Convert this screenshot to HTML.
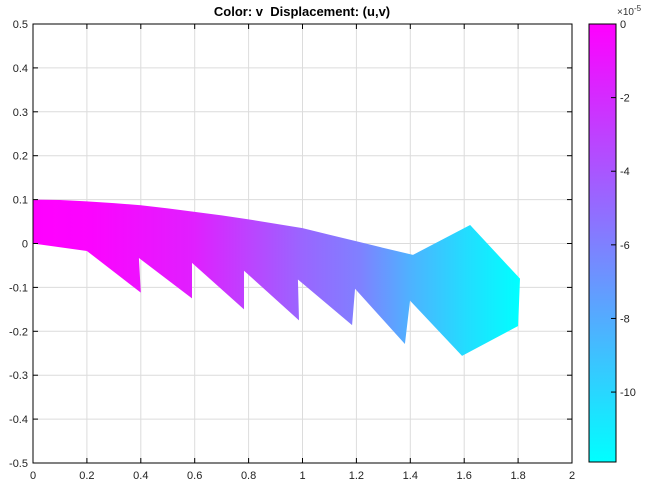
<!DOCTYPE html>
<html><head><meta charset="utf-8"><style>
body{margin:0;background:#fff;}
svg text{font-family:"Liberation Sans",Arial,sans-serif;}
</style></head><body>
<svg id="chart" width="658" height="484" viewBox="0 0 658 484">
<defs>
<linearGradient id="shapeGrad" gradientUnits="userSpaceOnUse" x1="33" y1="0" x2="520" y2="0">
<stop offset="0" stop-color="#ff00ff"/>
<stop offset="0.12" stop-color="#fb04ff"/>
<stop offset="0.33" stop-color="#e01fff"/>
<stop offset="0.55" stop-color="#9a65ff"/>
<stop offset="0.67" stop-color="#8080ff"/>
<stop offset="0.78" stop-color="#4cb4ff"/>
<stop offset="0.89" stop-color="#22ddff"/>
<stop offset="1" stop-color="#00ffff"/>
</linearGradient>
<linearGradient id="cbGrad" x1="0" y1="0" x2="0" y2="1">
<stop offset="0" stop-color="#ff00ff"/><stop offset="1" stop-color="#00ffff"/>
</linearGradient>
</defs>
<rect x="0" y="0" width="658" height="484" fill="#fff"/>
<g id="grid"></g>
<polygon id="shape" fill="url(#shapeGrad)"/>
<rect x="33" y="24" width="539" height="439" fill="none" stroke="#000" stroke-width="1"/>
<g id="ticks"></g>
<text x="302" y="16" text-anchor="middle" font-size="13" font-weight="bold" xml:space="preserve">Color: v&#160; Displacement: (u,v)</text>
<rect x="589" y="24" width="27" height="438" fill="url(#cbGrad)" stroke="#000" stroke-width="1"/>
<g id="cbticks"></g>
<text x="617" y="15" font-size="10" fill="#333">×10<tspan dy="-4" font-size="8">-5</tspan></text>
</svg>
<script>
const xTicks=[0,0.2,0.4,0.6,0.8,1,1.2,1.4,1.6,1.8,2];
const yTicks=[0.5,0.4,0.3,0.2,0.1,0,-0.1,-0.2,-0.3,-0.4,-0.5];
const cbTicks=[0,-2,-4,-6,-8,-10];
const shapeX=[0,0.1,0.2,0.3,0.4,0.5,0.6,0.7,0.8,0.9,1.0,1.1,1.2,1.3,1.41,1.622,1.807,1.80,1.592,1.399,1.38,1.195,1.184,0.983,0.987,0.783,0.783,0.59,0.59,0.393,0.40,0.2,0];
const shapeY=[0.1,0.099,0.096,0.092,0.087,0.080,0.072,0.064,0.055,0.045,0.035,0.020,0.005,-0.010,-0.026,0.042,-0.080,-0.188,-0.256,-0.130,-0.229,-0.103,-0.186,-0.082,-0.175,-0.062,-0.150,-0.044,-0.125,-0.033,-0.112,-0.017,0];
const cbMin=-11.9, cbMax=0;
const X=v=>33+(v-0)/2*539;
const Y=v=>243.5-v*439;
const CB=v=>24+(cbMax-v)/(cbMax-cbMin)*438;
const NS='http://www.w3.org/2000/svg';
function mk(tag,attrs,parent){const e=document.createElementNS(NS,tag);for(const k in attrs)e.setAttribute(k,attrs[k]);parent.appendChild(e);return e;}
const grid=document.getElementById('grid'),ticks=document.getElementById('ticks'),cbt=document.getElementById('cbticks');
xTicks.forEach(t=>{
  const gl=mk('line',{x1:X(t),x2:X(t),y1:24,y2:463,stroke:'#dcdcdc','stroke-width':1},grid);
  
  
  const tk=mk('line',{x1:X(t),x2:X(t),y1:463,y2:458,stroke:'#000'},ticks);
  
  
  const tk2=mk('line',{x1:X(t),x2:X(t),y1:24,y2:29,stroke:'#000'},ticks);
  
  
  const lb=mk('text',{x:X(t),y:479,'text-anchor':'middle','font-size':11,fill:'#222'},ticks);
  lb.textContent=String(t);
  
  
});
yTicks.forEach(t=>{
  const gl=mk('line',{x1:33,x2:572,y1:Y(t),y2:Y(t),stroke:'#dcdcdc','stroke-width':1},grid);
  
  
  const tk=mk('line',{x1:33,x2:38,y1:Y(t),y2:Y(t),stroke:'#000'},ticks);
  
  
  const tk2=mk('line',{x1:572,x2:567,y1:Y(t),y2:Y(t),stroke:'#000'},ticks);
  
  
  const lb=mk('text',{x:28,y:Y(t)+4,'text-anchor':'end','font-size':11,fill:'#222'},ticks);
  lb.textContent=String(t);
  
  
});
cbTicks.forEach(t=>{
  const tk=mk('line',{x1:611,x2:616,y1:CB(t),y2:CB(t),stroke:'#000'},cbt);
  
  
  const lb=mk('text',{x:620,y:CB(t)+4,'font-size':11,fill:'#222'},cbt);
  lb.textContent=String(t);
  
  
});
document.getElementById('shape').setAttribute('points',shapeX.map((x,i)=>X(x)+','+Y(shapeY[i])).join(' '));
</script>
</body></html>
